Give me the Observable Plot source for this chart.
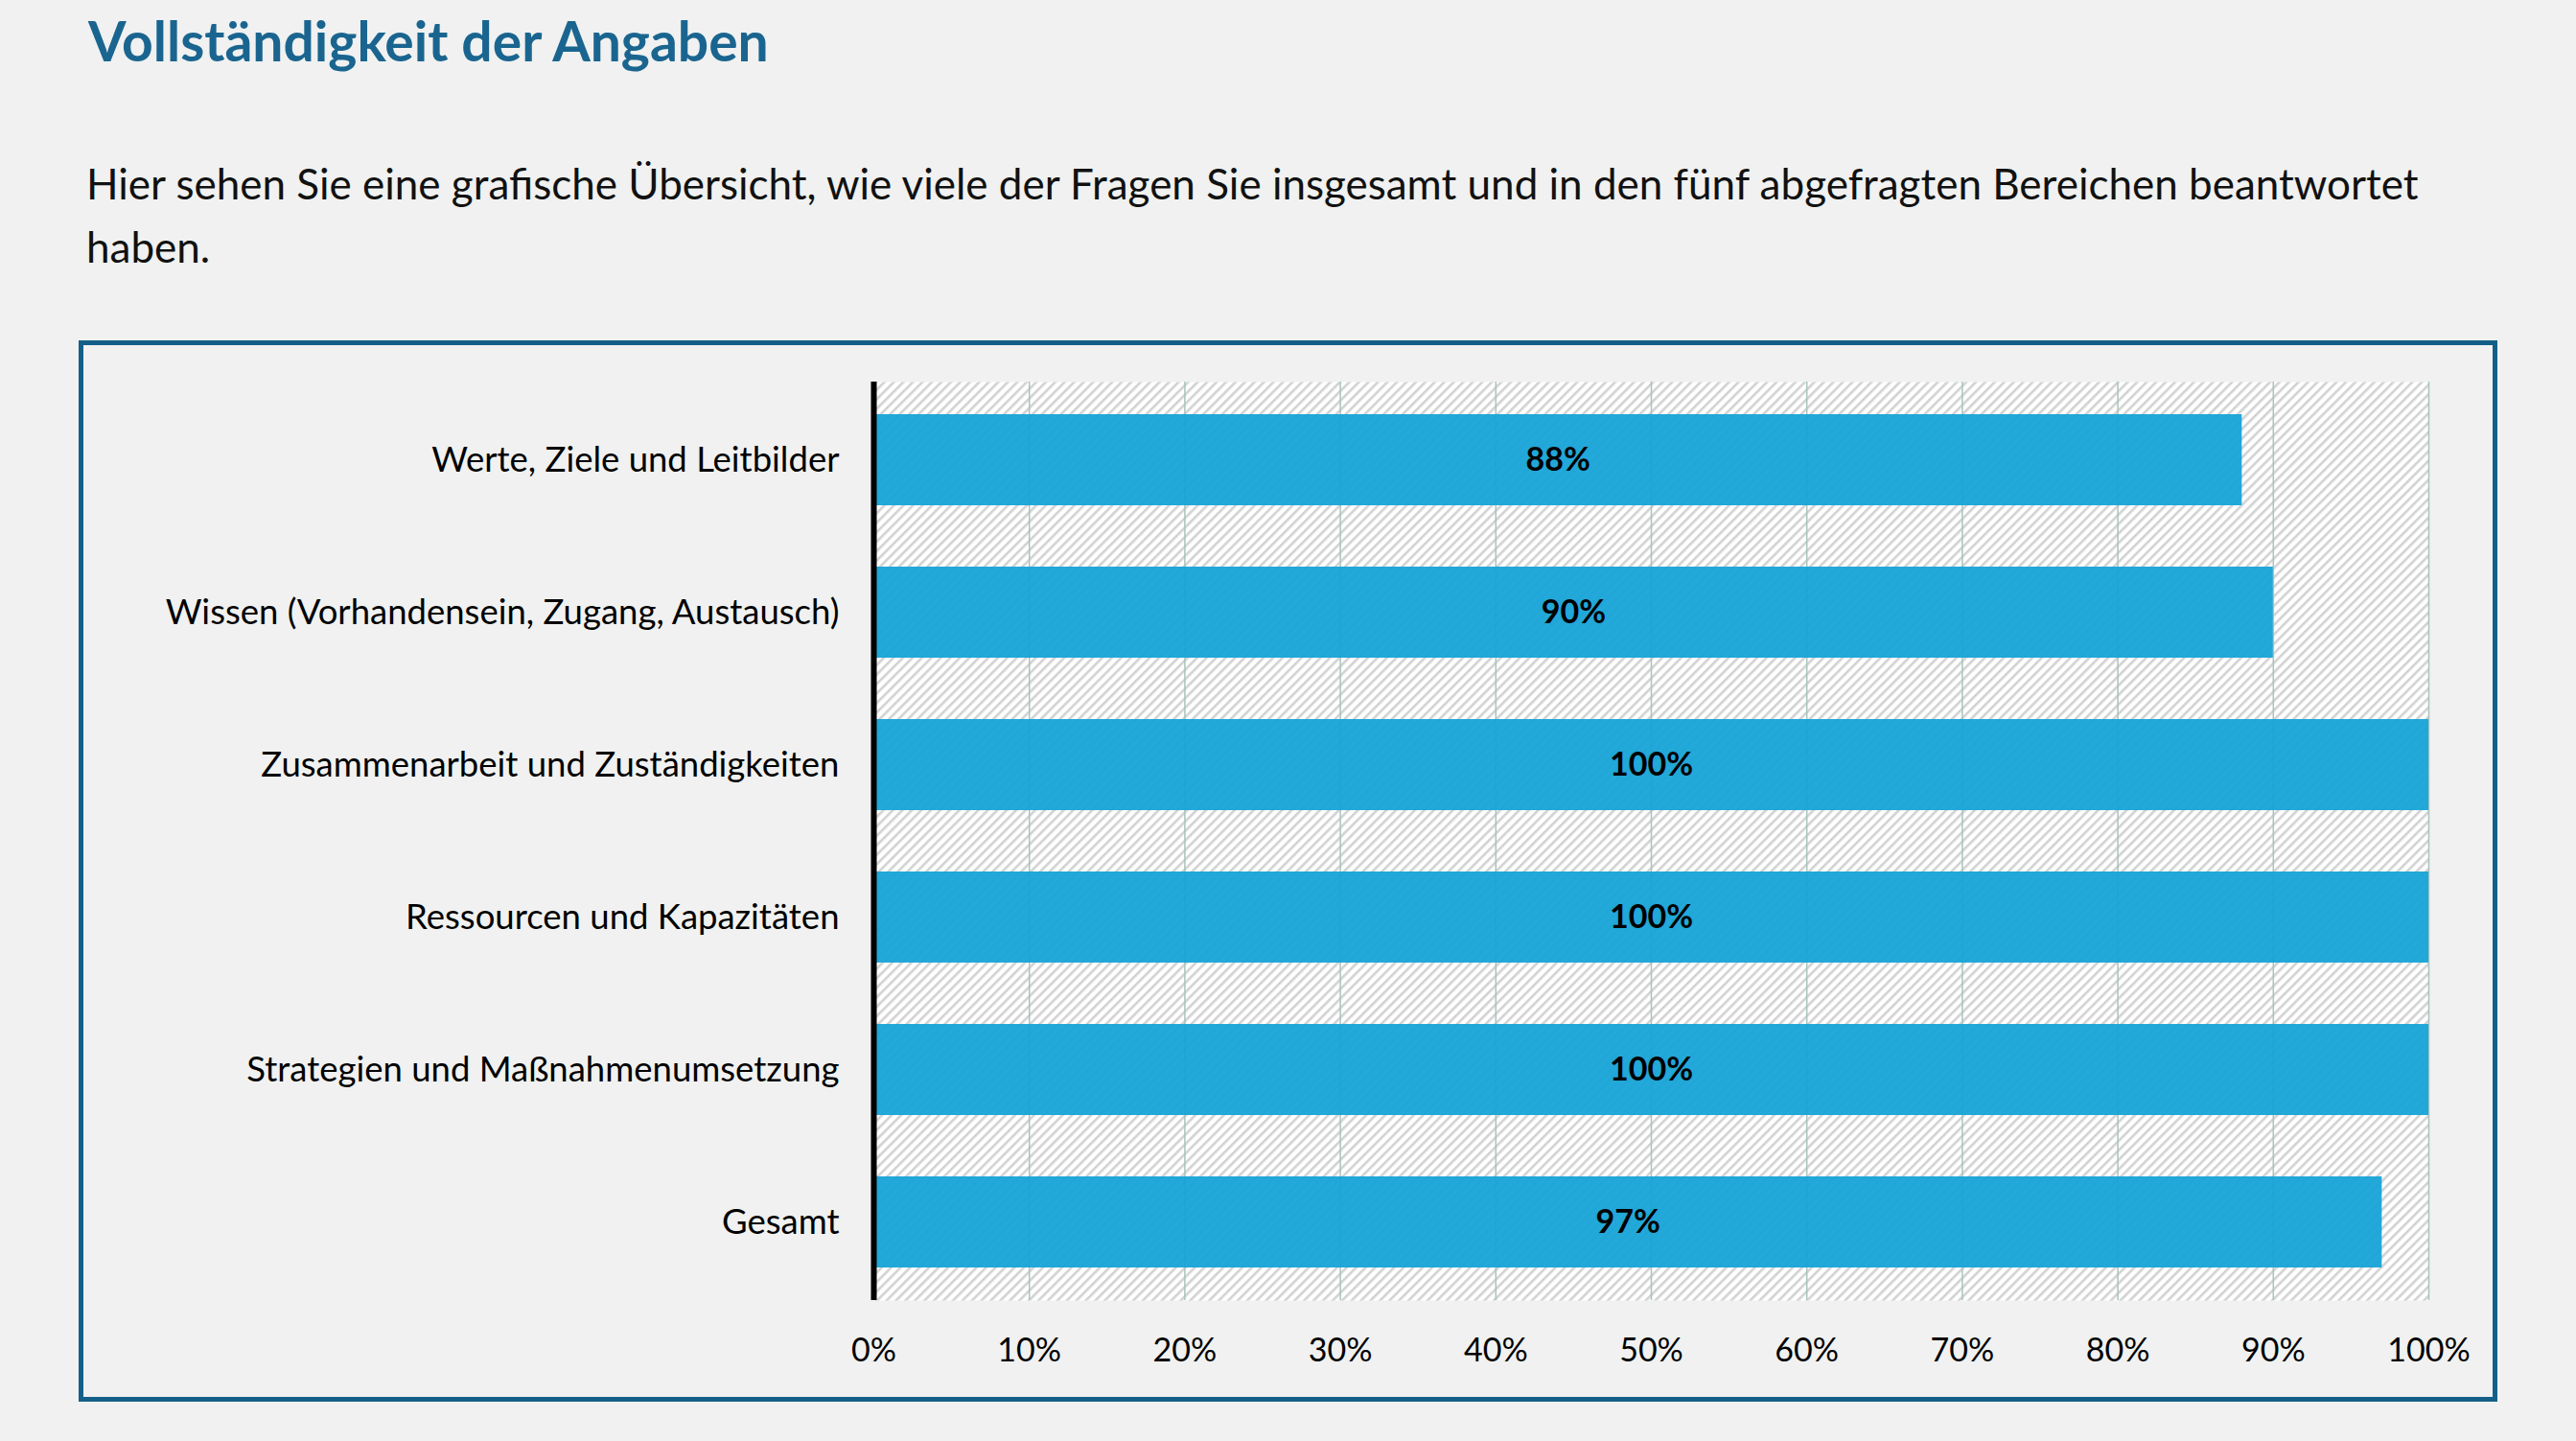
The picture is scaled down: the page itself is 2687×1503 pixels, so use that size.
<!DOCTYPE html>
<html>
<head>
<meta charset="utf-8">
<script src="https://cdn.jsdelivr.net/npm/d3@7"></script>
<script src="https://cdn.jsdelivr.net/npm/@observablehq/plot@0.6"></script>
<style>
  html, body { margin: 0; padding: 0; background: #f0f1f0; }
  body { width: 2687px; height: 1503px; position: relative; overflow: hidden; font-family: Lato, "Open Sans", sans-serif; }
  #title { position: absolute; left: 92px; top: 8px; font-size: 57px; font-weight: bold; color: #1a6590; white-space: nowrap; }
  #subtitle { position: absolute; left: 90px; top: 158px; font-size: 44px; line-height: 66px; color: #111; white-space: nowrap; }
  #box { position: absolute; left: 82px; top: 355px; width: 2513px; height: 1097px; border: 5px solid #135f88; }
  #box svg { position: absolute; left: 0; top: 0; }
</style>
</head>
<body>
<div id="title">Vollständigkeit der Angaben</div>
<div id="subtitle">Hier sehen Sie eine grafische Übersicht, wie viele der Fragen Sie insgesamt und in den fünf abgefragten Bereichen beantwortet<br>haben.</div>
<div id="box"></div>
<script>
const categories = [
  "Werte, Ziele und Leitbilder",
  "Wissen (Vorhandensein, Zugang, Austausch)",
  "Zusammenarbeit und Zuständigkeiten",
  "Ressourcen und Kapazitäten",
  "Strategien und Maßnahmenumsetzung",
  "Gesamt"
];
const values = [88, 90, 100, 100, 100, 97];
const xTicks = [0, 10, 20, 30, 40, 50, 60, 70, 80, 90, 100];

const data = categories.map((c, i) => ({category: c, value: values[i]}));

const chart = Plot.plot({
  width: 2513,
  height: 1097,
  marginLeft: 824,
  marginRight: 67,
  marginTop: 38,
  marginBottom: 101,
  style: {background: "transparent", fontFamily: "Lato, 'Open Sans', sans-serif", fontSize: "36px", color: "#000", overflow: "visible"},
  x: {domain: [0, 100], label: null},
  y: {domain: categories, paddingInner: 0.4, paddingOuter: 0.2, label: null},
  marks: [
    Plot.frame({fill: "url(#hatch)", stroke: null}),
    Plot.ruleX(xTicks.slice(1), {stroke: "#a8c4bf", strokeWidth: 1.5}),
    Plot.barX(data, {x: "value", y: "category", fill: "#16a3d7", fillOpacity: 0.95}),
    Plot.text(data, {x: d => d.value / 2, y: "category", text: d => d.value + "%", fontWeight: "bold", fontSize: 34, fill: "#000"}),
    Plot.axisX({ticks: xTicks, tickFormat: d => d + "%", tickSize: 0, tickPadding: 39, fontSize: 34, label: null}),
    Plot.axisY({tickSize: 0, tickPadding: 36, fontSize: 36.5, label: null}),
    Plot.ruleX([0], {stroke: "#000", strokeWidth: 6})
  ]
});

const defs = d3.select(chart).insert("defs", ":first-child");
const pat = defs.append("pattern")
  .attr("id", "hatch")
  .attr("patternUnits", "userSpaceOnUse")
  .attr("width", 7)
  .attr("height", 7)
  .attr("patternTransform", "rotate(45)");
pat.append("rect").attr("width", 7).attr("height", 7).attr("fill", "#ffffff");
pat.append("rect").attr("x", 0).attr("width", 2.6).attr("height", 7).attr("fill", "#d2d2d2");

document.getElementById("box").appendChild(chart);
</script>
</body>
</html>
